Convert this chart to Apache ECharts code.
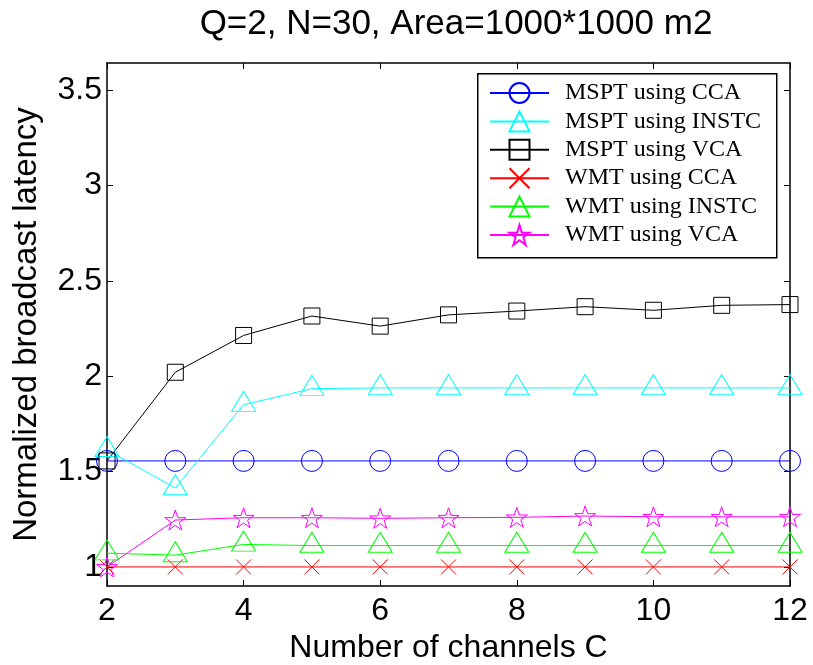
<!DOCTYPE html>
<html>
<head>
<meta charset="utf-8">
<script src="https://cdn.jsdelivr.net/npm/echarts@6/dist/echarts.min.js"></script>
<style>
  html, body { margin: 0; padding: 0; background: #fff; }
  #chart { width: 813px; height: 665px; }
</style>
</head>
<body>
<div id="chart"></div>
<script>
// Number of channels on the x axis
const channels = [2, 3, 4, 5, 6, 7, 8, 9, 10, 11, 12];

// Normalized broadcast latency per scheme
const msptCca   = [1.556, 1.556, 1.556, 1.556, 1.556, 1.556, 1.556, 1.556, 1.556, 1.556, 1.556];
const msptInstc = [1.614, 1.414, 1.851, 1.935, 1.939, 1.939, 1.939, 1.939, 1.939, 1.939, 1.939];
const msptVca   = [1.556, 2.021, 2.214, 2.316, 2.263, 2.322, 2.342, 2.365, 2.346, 2.372, 2.376];
const wmtCca    = [1.0, 1.0, 1.0, 1.0, 1.0, 1.0, 1.0, 1.0, 1.0, 1.0, 1.0];
const wmtInstc  = [1.072, 1.062, 1.118, 1.112, 1.112, 1.112, 1.112, 1.112, 1.112, 1.112, 1.112];
const wmtVca    = [1.0, 1.246, 1.258, 1.258, 1.255, 1.258, 1.26, 1.267, 1.263, 1.263, 1.263];

const seriesNames = ['MSPT using CCA', 'MSPT using INSTC', 'MSPT using VCA',
                     'WMT using CCA', 'WMT using INSTC', 'WMT using VCA'];

// Axis ticks
const xTicks = [2, 4, 6, 8, 10, 12];
const yTicks = [1, 1.5, 2, 2.5, 3, 3.5];

// Five-pointed star outline as a path symbol
function starPath() {
  const pts = [];
  for (let i = 0; i < 10; i++) {
    const r = i % 2 === 0 ? 50 : 19.1;
    const a = -Math.PI / 2 + i * Math.PI / 5;
    pts.push((50 + r * Math.cos(a)).toFixed(2) + ',' + (50 + r * Math.sin(a)).toFixed(2));
  }
  return 'path://M' + pts.join('L') + 'Z';
}
const crossPath = 'path://M0,0L10,10M10,0L0,10';

function pairs(vals) {
  return channels.map((c, i) => [c, vals[i]]);
}

function lineSeries(name, vals, color, symbol, size, offset) {
  return {
    name: name,
    type: 'line',
    data: pairs(vals),
    symbol: symbol,
    symbolSize: size,
    symbolOffset: offset || [0, 0],
    symbolKeepAspect: true,
    showAllSymbol: true,
    clip: false,
    animation: false,
    lineStyle: { color: color, width: 1 },
    itemStyle: { color: 'rgba(0,0,0,0)', borderColor: color, borderWidth: 1 },
    emphasis: { disabled: true }
  };
}

const sansFont = '"Liberation Sans", Arial, Helvetica, sans-serif';
const chart = echarts.init(document.getElementById('chart'), null, { renderer: 'canvas' });

const option = {
  backgroundColor: '#fff',
  animation: false,
  title: {
    text: 'Q=2, N=30, Area=1000*1000 m2',
    left: 451,
    textAlign: 'center',
    top: 2,
    textStyle: { fontFamily: sansFont, fontSize: 35, fontWeight: 'normal', color: '#000' }
  },
  grid: { left: 107, right: 23, top: 63, bottom: 79, outerBoundsMode: 'none', containLabel: false },
  graphic: [{
    type: 'rect',
    left: 477, top: 73,
    shape: { width: 299, height: 184 },
    style: { fill: '#fff', stroke: '#000', lineWidth: 1.5 },
    z: 3
  }],
  legend: {
    orient: 'vertical',
    left: 489, top: 81,
    padding: 0,
    itemWidth: 59, itemHeight: 25, itemGap: 4.4,
    data: seriesNames,
    textStyle: { fontFamily: '"Liberation Serif", "Times New Roman", serif', fontSize: 24, color: '#000', padding: [0, 0, 0, 11] },
    z: 5
  },
  xAxis: [{
    type: 'value', min: 2, max: 12, interval: 2,
    position: 'bottom',
    name: 'Number of channels C',
    nameLocation: 'middle', nameGap: 40,
    nameTextStyle: { fontFamily: sansFont, fontSize: 32, color: '#000' },
    axisLine: { show: true, onZero: false, lineStyle: { color: '#000', width: 1.5 } },
    axisTick: { show: true, inside: true, length: 6, customValues: xTicks, lineStyle: { color: '#000' } },
    axisLabel: { customValues: xTicks, margin: 9, fontFamily: sansFont, fontSize: 32, color: '#000' },
    splitLine: { show: false }
  }, {
    type: 'value', min: 2, max: 12, interval: 2,
    position: 'top',
    axisLine: { show: true, onZero: false, lineStyle: { color: '#000', width: 1.5 } },
    axisTick: { show: true, inside: true, length: 6, customValues: xTicks, lineStyle: { color: '#000' } },
    axisLabel: { show: false },
    splitLine: { show: false }
  }],
  yAxis: [{
    type: 'value', min: 0.9, max: 3.643,
    position: 'left',
    name: 'Normalized broadcast latency',
    nameLocation: 'middle', nameGap: 64,
    nameTextStyle: { fontFamily: sansFont, fontSize: 33, color: '#000' },
    axisLine: { show: true, onZero: false, lineStyle: { color: '#000', width: 1.5 } },
    axisTick: { show: true, inside: true, length: 6, customValues: yTicks, lineStyle: { color: '#000' } },
    axisLabel: { customValues: yTicks, margin: 5, fontFamily: sansFont, fontSize: 32, color: '#000' },
    splitLine: { show: false }
  }, {
    type: 'value', min: 0.9, max: 3.643,
    position: 'right',
    axisLine: { show: true, onZero: false, lineStyle: { color: '#000', width: 1.5 } },
    axisTick: { show: true, inside: true, length: 6, customValues: yTicks, lineStyle: { color: '#000' } },
    axisLabel: { show: false },
    splitLine: { show: false }
  }],
  series: [
    lineSeries(seriesNames[0], msptCca, '#0000ff', 'circle', 21),
    lineSeries(seriesNames[1], msptInstc, '#00ffff', 'triangle', [24, 20], [0, -3.3]),
    lineSeries(seriesNames[2], msptVca, '#000000', 'rect', 16),
    lineSeries(seriesNames[3], wmtCca, '#ff0000', crossPath, 15),
    lineSeries(seriesNames[4], wmtInstc, '#00ff00', 'triangle', [24, 20], [0, -3.3]),
    lineSeries(seriesNames[5], wmtVca, '#ff00ff', starPath(), 21)
  ]
};

chart.setOption(option);
</script>
</body>
</html>
